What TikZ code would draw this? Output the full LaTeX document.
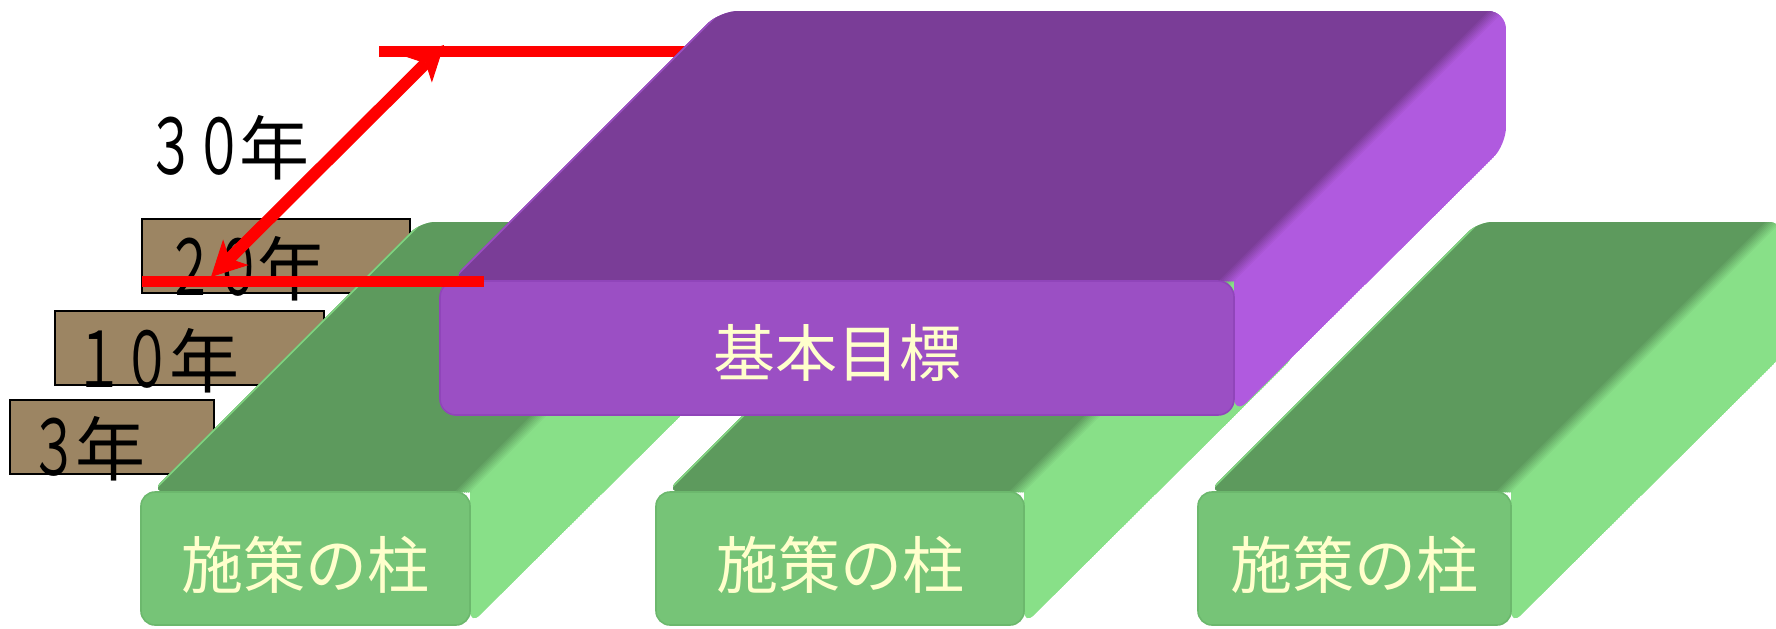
\documentclass[tikz,border=0pt]{standalone}
\usepackage{fontspec}
\newfontfamily\jp{Noto Sans CJK JP}
\usetikzlibrary{arrows.meta}
\definecolor{ptop}{HTML}{7A3D97}
\definecolor{pfront}{HTML}{9B4FC4}
\definecolor{pfrontd}{HTML}{9045BA}
\definecolor{pright}{HTML}{B05ADF}
\definecolor{gtop}{HTML}{5D9A5D}
\definecolor{gfront}{HTML}{76C477}
\definecolor{gfrontd}{HTML}{6CB86D}
\definecolor{gright}{HTML}{88E088}
\definecolor{boxbrown}{HTML}{9C8563}
\definecolor{cream}{HTML}{FFFFCC}
\definecolor{redc}{HTML}{FF0000}
\newcommand\narrowdigit[1]{\makebox[30pt][c]{\scalebox{0.71}[1.1]{#1}}}
\tikzset{
  yearbox/.style={draw=black, line width=1pt, fill=boxbrown},
  yeartext/.style={font=\jp\fontsize{35pt}{40pt}\selectfont, text=black, inner sep=0pt, anchor=base west},
  facelabel/.style={font=\jp\fontsize{31pt}{37pt}\selectfont, text=cream, inner sep=0pt, anchor=base},
  redline/.style={draw=redc, line width=5.5pt},
  redarrow/.style={draw=redc, line width=6pt,
     {Stealth[length=17.5pt,width=18pt,inset=4.5pt,line width=0.5pt]}-{Stealth[length=17.5pt,width=18pt,inset=4.5pt,line width=0.5pt]}},
}
\begin{document}
\begin{tikzpicture}[x=0.5pt,y=-0.5pt]
\useasboundingbox (0,0) rectangle (1776,628);
\clip (0,0) rectangle (1776,628);

% year boxes
\draw[yearbox] (142,219) rectangle (410,293);
\draw[yearbox] (55,311) rectangle (324,385);
\draw[yearbox] (10,400) rectangle (214,474);
\node[yeartext] (y20) at (159.5,295) {\narrowdigit{２}\kern-5.75pt\narrowdigit{０}\kern-5.75pt年};
\node[yeartext] (y10) at (69,387) {\narrowdigit{１}\kern-6pt\narrowdigit{０}\kern-3.75pt年};
\node[yeartext] (y3) at (24,475) {\narrowdigit{３}\kern-4.25pt年};
\node[yeartext] (y30) at (140.5,174) {\narrowdigit{３}\kern-5.75pt\narrowdigit{０}\kern-4.75pt年};

% green pillars
\foreach \a/\b [count=\i] in {141/470, 656/1024, 1198/1511}{
  \begin{scope}
    \clip[rounded corners=7pt] ({\a+10},492) -- ({\a+280},222) -- ({\b+272},222) -- ({\b+272},355) -- (\b,625) -- (\b,492) -- cycle;
    \fill[gright] ({\a+10},492) -- ({\a+280},222) -- ({\b+272},222) -- ({\b+272},355) -- (\b,625) -- (\b,492) -- cycle;
    \fill[gtop] ({\a+10},492) -- ({\a+280},222) -- ({\b+258},222) -- ({\b-12},492) -- cycle;
    \foreach \k in {0,...,9}{
      \pgfmathtruncatemacro\pc{100-\k*11}
      \draw[line width=1.2pt, gtop!\pc!gright] ({\b-16+2*\k},492) -- ({\b+254+2*\k},222);
    }
    \draw[line width=1pt, gright!80!gtop] ({\a+11},492) -- ({\a+281},222);
  \end{scope}
  \draw[fill=gfront, draw=gfrontd, line width=0.8pt, rounded corners=7pt] (\a,492) rectangle (\b,625);
  \node[facelabel] (p\i) at ({(\a+\b)/2},588) {施策の柱};
}

% upper red line (behind the purple block)
\coordinate (r1a) at (379,51.5);
\coordinate (r1b) at (700,51.5);
\draw[redline] (r1a) -- (r1b);

% purple block
\begin{scope}
  \clip[rounded corners=9pt] (450,281) -- (720,11) -- (1506,11) -- (1506,145) -- (1234,415) -- (1234,281) -- cycle;
  \fill[pright] (450,281) -- (720,11) -- (1506,11) -- (1506,145) -- (1234,415) -- (1234,281) -- cycle;
  \fill[ptop] (450,281) -- (720,11) -- (1492,11) -- (1222,281) -- cycle;
  \foreach \k in {0,...,9}{
    \pgfmathtruncatemacro\pc{100-\k*11}
    \draw[line width=1.2pt, ptop!\pc!pright] ({1218+2*\k},281) -- ({1488+2*\k},11);
  }
  \draw[line width=1pt, pright!60!ptop] (451,281) -- (721,11);
\end{scope}
\draw[fill=pfront, draw=pfrontd, line width=0.8pt, rounded corners=8pt] (440,281) rectangle (1234,415);
\node[facelabel] (goal) at (837,376) {基本目標};

% lower red line and double arrow
\coordinate (r2a) at (142,281.5);
\coordinate (r2b) at (484,281.5);
\draw[redline] (r2a) -- (r2b);
\coordinate (arrlo) at (211,277);
\coordinate (arrhi) at (444,45);
\draw[redarrow] (arrlo) -- (arrhi);
\end{tikzpicture}
\end{document}
